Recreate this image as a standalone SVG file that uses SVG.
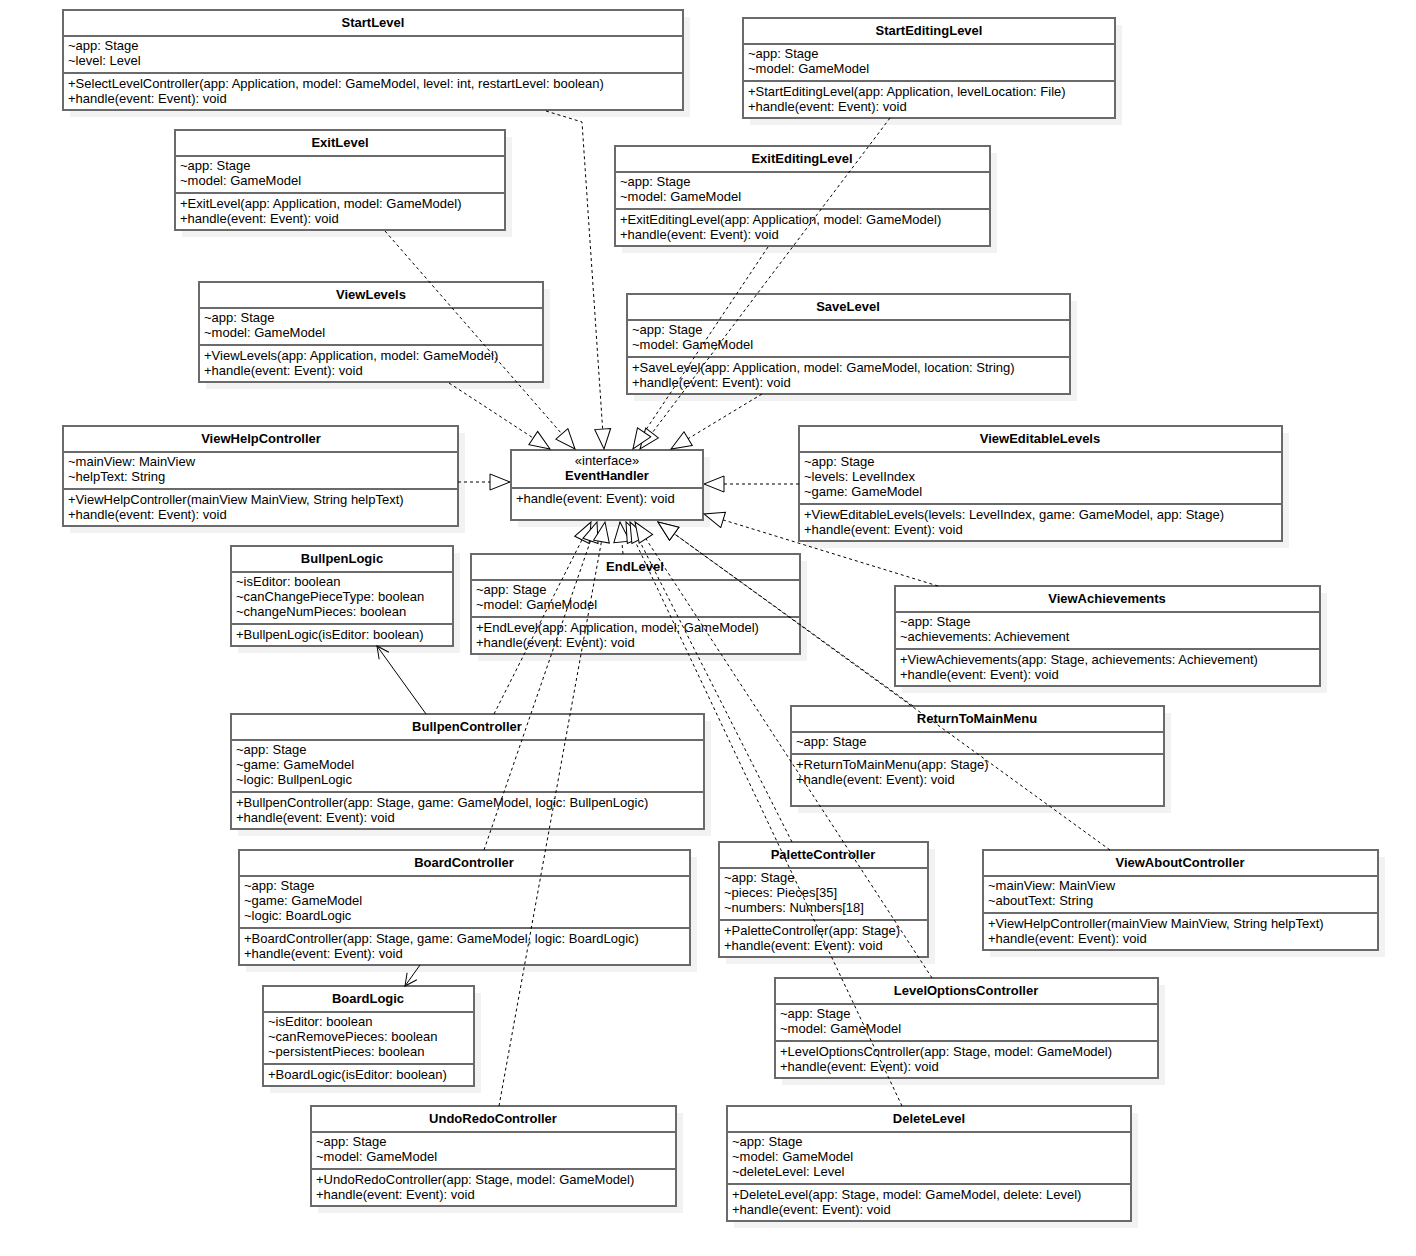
<svg xmlns="http://www.w3.org/2000/svg" width="1416" height="1256" viewBox="0 0 1416 1256">
<style>
.sh{fill:#f2f2f2;stroke:none}
.bx{fill:#fff;stroke:#6a6a6a;stroke-width:2}
.sp{stroke:#6a6a6a;stroke-width:2}
text{font-family:"Liberation Sans",Arial,sans-serif;font-size:13px;fill:#000}
.ti{font-weight:bold;text-anchor:middle}
.c{text-anchor:middle}
.dl{fill:none;stroke:#000;stroke-width:1;stroke-dasharray:3 3}
.sl{fill:none;stroke:#000;stroke-width:1}
</style>
<defs>
<marker id="real" markerUnits="userSpaceOnUse" markerWidth="22" markerHeight="18" refX="20" refY="8" orient="auto" viewBox="-1 -1 22 18">
<path d="M0,0 L20,8 L0,16 Z" fill="#fff" stroke="#000" stroke-width="1" stroke-dasharray="none"/>
</marker>
<marker id="open" markerUnits="userSpaceOnUse" markerWidth="14" markerHeight="14" refX="12" refY="6" orient="auto" viewBox="-1 -1 14 14">
<path d="M0,0 L12,6 L0,12" fill="none" stroke="#000" stroke-width="1"/>
</marker>
</defs>
<rect width="1416" height="1256" fill="#fff"/>

<g id="StartLevel">
<rect class="sh" x="70" y="17" width="620" height="100"/><rect class="bx" x="63" y="10" width="620" height="100"/>
<line class="sp" x1="63" y1="36" x2="683" y2="36"/><line class="sp" x1="63" y1="73" x2="683" y2="73"/>
<text class="ti" x="373" y="27">StartLevel</text>
<text x="68" y="50">~app: Stage</text><text x="68" y="65">~level: Level</text>
<text x="68" y="88">+SelectLevelController(app: Application, model: GameModel, level: int, restartLevel: boolean)</text><text x="68" y="103">+handle(event: Event): void</text>
</g>

<g id="StartEditingLevel">
<rect class="sh" x="750" y="25" width="372" height="100"/><rect class="bx" x="743" y="18" width="372" height="100"/>
<line class="sp" x1="743" y1="44" x2="1115" y2="44"/><line class="sp" x1="743" y1="81" x2="1115" y2="81"/>
<text class="ti" x="929" y="35">StartEditingLevel</text>
<text x="748" y="58">~app: Stage</text><text x="748" y="73">~model: GameModel</text>
<text x="748" y="96">+StartEditingLevel(app: Application, levelLocation: File)</text><text x="748" y="111">+handle(event: Event): void</text>
</g>

<g id="ExitLevel">
<rect class="sh" x="182" y="137" width="330" height="100"/><rect class="bx" x="175" y="130" width="330" height="100"/>
<line class="sp" x1="175" y1="156" x2="505" y2="156"/><line class="sp" x1="175" y1="193" x2="505" y2="193"/>
<text class="ti" x="340" y="147">ExitLevel</text>
<text x="180" y="170">~app: Stage</text><text x="180" y="185">~model: GameModel</text>
<text x="180" y="208">+ExitLevel(app: Application, model: GameModel)</text><text x="180" y="223">+handle(event: Event): void</text>
</g>

<g id="ExitEditingLevel">
<rect class="sh" x="622" y="153" width="375" height="100"/><rect class="bx" x="615" y="146" width="375" height="100"/>
<line class="sp" x1="615" y1="172" x2="990" y2="172"/><line class="sp" x1="615" y1="209" x2="990" y2="209"/>
<text class="ti" x="802" y="163">ExitEditingLevel</text>
<text x="620" y="186">~app: Stage</text><text x="620" y="201">~model: GameModel</text>
<text x="620" y="224">+ExitEditingLevel(app: Application, model: GameModel)</text><text x="620" y="239">+handle(event: Event): void</text>
</g>

<g id="ViewLevels">
<rect class="sh" x="206" y="289" width="344" height="100"/><rect class="bx" x="199" y="282" width="344" height="100"/>
<line class="sp" x1="199" y1="308" x2="543" y2="308"/><line class="sp" x1="199" y1="345" x2="543" y2="345"/>
<text class="ti" x="371" y="299">ViewLevels</text>
<text x="204" y="322">~app: Stage</text><text x="204" y="337">~model: GameModel</text>
<text x="204" y="360">+ViewLevels(app: Application, model: GameModel)</text><text x="204" y="375">+handle(event: Event): void</text>
</g>

<g id="SaveLevel">
<rect class="sh" x="634" y="301" width="443" height="100"/><rect class="bx" x="627" y="294" width="443" height="100"/>
<line class="sp" x1="627" y1="320" x2="1070" y2="320"/><line class="sp" x1="627" y1="357" x2="1070" y2="357"/>
<text class="ti" x="848" y="311">SaveLevel</text>
<text x="632" y="334">~app: Stage</text><text x="632" y="349">~model: GameModel</text>
<text x="632" y="372">+SaveLevel(app: Application, model: GameModel, location: String)</text><text x="632" y="387">+handle(event: Event): void</text>
</g>

<g id="ViewHelpController">
<rect class="sh" x="70" y="433" width="395" height="100"/><rect class="bx" x="63" y="426" width="395" height="100"/>
<line class="sp" x1="63" y1="452" x2="458" y2="452"/><line class="sp" x1="63" y1="489" x2="458" y2="489"/>
<text class="ti" x="261" y="443">ViewHelpController</text>
<text x="68" y="466">~mainView: MainView</text><text x="68" y="481">~helpText: String</text>
<text x="68" y="504">+ViewHelpController(mainView MainView, String helpText)</text><text x="68" y="519">+handle(event: Event): void</text>
</g>

<g id="EventHandler">
<rect class="sh" x="518" y="457" width="192" height="70"/><rect class="bx" x="511" y="450" width="192" height="70"/>
<line class="sp" x1="511" y1="488" x2="703" y2="488"/>
<text class="c" x="607" y="465">«interface»</text>
<text class="ti" x="607" y="480">EventHandler</text>
<text x="516" y="503">+handle(event: Event): void</text>
</g>

<g id="ViewEditableLevels">
<rect class="sh" x="806" y="433" width="483" height="115"/><rect class="bx" x="799" y="426" width="483" height="115"/>
<line class="sp" x1="799" y1="452" x2="1282" y2="452"/><line class="sp" x1="799" y1="504" x2="1282" y2="504"/>
<text class="ti" x="1040" y="443">ViewEditableLevels</text>
<text x="804" y="466">~app: Stage</text><text x="804" y="481">~levels: LevelIndex</text><text x="804" y="496">~game: GameModel</text>
<text x="804" y="519">+ViewEditableLevels(levels: LevelIndex, game: GameModel, app: Stage)</text><text x="804" y="534">+handle(event: Event): void</text>
</g>

<g id="BullpenLogic">
<rect class="sh" x="238" y="553" width="222" height="100"/><rect class="bx" x="231" y="546" width="222" height="100"/>
<line class="sp" x1="231" y1="572" x2="453" y2="572"/><line class="sp" x1="231" y1="624" x2="453" y2="624"/>
<text class="ti" x="342" y="563">BullpenLogic</text>
<text x="236" y="586">~isEditor: boolean</text><text x="236" y="601">~canChangePieceType: boolean</text><text x="236" y="616">~changeNumPieces: boolean</text>
<text x="236" y="639">+BullpenLogic(isEditor: boolean)</text>
</g>

<g id="EndLevel">
<rect class="sh" x="478" y="561" width="329" height="100"/><rect class="bx" x="471" y="554" width="329" height="100"/>
<line class="sp" x1="471" y1="580" x2="800" y2="580"/><line class="sp" x1="471" y1="617" x2="800" y2="617"/>
<text class="ti" x="635" y="571">EndLevel</text>
<text x="476" y="594">~app: Stage</text><text x="476" y="609">~model: GameModel</text>
<text x="476" y="632">+EndLevel(app: Application, model: GameModel)</text><text x="476" y="647">+handle(event: Event): void</text>
</g>

<g id="ViewAchievements">
<rect class="sh" x="902" y="593" width="425" height="100"/><rect class="bx" x="895" y="586" width="425" height="100"/>
<line class="sp" x1="895" y1="612" x2="1320" y2="612"/><line class="sp" x1="895" y1="649" x2="1320" y2="649"/>
<text class="ti" x="1107" y="603">ViewAchievements</text>
<text x="900" y="626">~app: Stage</text><text x="900" y="641">~achievements: Achievement</text>
<text x="900" y="664">+ViewAchievements(app: Stage, achievements: Achievement)</text><text x="900" y="679">+handle(event: Event): void</text>
</g>

<g id="ReturnToMainMenu">
<rect class="sh" x="798" y="713" width="373" height="100"/><rect class="bx" x="791" y="706" width="373" height="100"/>
<line class="sp" x1="791" y1="732" x2="1164" y2="732"/><line class="sp" x1="791" y1="754" x2="1164" y2="754"/>
<text class="ti" x="977" y="723">ReturnToMainMenu</text>
<text x="796" y="746">~app: Stage</text>
<text x="796" y="769">+ReturnToMainMenu(app: Stage)</text><text x="796" y="784">+handle(event: Event): void</text>
</g>

<g id="BullpenController">
<rect class="sh" x="238" y="721" width="473" height="115"/><rect class="bx" x="231" y="714" width="473" height="115"/>
<line class="sp" x1="231" y1="740" x2="704" y2="740"/><line class="sp" x1="231" y1="792" x2="704" y2="792"/>
<text class="ti" x="467" y="731">BullpenController</text>
<text x="236" y="754">~app: Stage</text><text x="236" y="769">~game: GameModel</text><text x="236" y="784">~logic: BullpenLogic</text>
<text x="236" y="807">+BullpenController(app: Stage, game: GameModel, logic: BullpenLogic)</text><text x="236" y="822">+handle(event: Event): void</text>
</g>

<g id="BoardController">
<rect class="sh" x="246" y="857" width="451" height="115"/><rect class="bx" x="239" y="850" width="451" height="115"/>
<line class="sp" x1="239" y1="876" x2="690" y2="876"/><line class="sp" x1="239" y1="928" x2="690" y2="928"/>
<text class="ti" x="464" y="867">BoardController</text>
<text x="244" y="890">~app: Stage</text><text x="244" y="905">~game: GameModel</text><text x="244" y="920">~logic: BoardLogic</text>
<text x="244" y="943">+BoardController(app: Stage, game: GameModel, logic: BoardLogic)</text><text x="244" y="958">+handle(event: Event): void</text>
</g>

<g id="PaletteController">
<rect class="sh" x="726" y="849" width="209" height="115"/><rect class="bx" x="719" y="842" width="209" height="115"/>
<line class="sp" x1="719" y1="868" x2="928" y2="868"/><line class="sp" x1="719" y1="920" x2="928" y2="920"/>
<text class="ti" x="823" y="859">PaletteController</text>
<text x="724" y="882">~app: Stage</text><text x="724" y="897">~pieces: Pieces[35]</text><text x="724" y="912">~numbers: Numbers[18]</text>
<text x="724" y="935">+PaletteController(app: Stage)</text><text x="724" y="950">+handle(event: Event): void</text>
</g>

<g id="ViewAboutController">
<rect class="sh" x="990" y="857" width="395" height="100"/><rect class="bx" x="983" y="850" width="395" height="100"/>
<line class="sp" x1="983" y1="876" x2="1378" y2="876"/><line class="sp" x1="983" y1="913" x2="1378" y2="913"/>
<text class="ti" x="1180" y="867">ViewAboutController</text>
<text x="988" y="890">~mainView: MainView</text><text x="988" y="905">~aboutText: String</text>
<text x="988" y="928">+ViewHelpController(mainView MainView, String helpText)</text><text x="988" y="943">+handle(event: Event): void</text>
</g>

<g id="LevelOptionsController">
<rect class="sh" x="782" y="985" width="383" height="100"/><rect class="bx" x="775" y="978" width="383" height="100"/>
<line class="sp" x1="775" y1="1004" x2="1158" y2="1004"/><line class="sp" x1="775" y1="1041" x2="1158" y2="1041"/>
<text class="ti" x="966" y="995">LevelOptionsController</text>
<text x="780" y="1018">~app: Stage</text><text x="780" y="1033">~model: GameModel</text>
<text x="780" y="1056">+LevelOptionsController(app: Stage, model: GameModel)</text><text x="780" y="1071">+handle(event: Event): void</text>
</g>

<g id="BoardLogic">
<rect class="sh" x="270" y="993" width="211" height="100"/><rect class="bx" x="263" y="986" width="211" height="100"/>
<line class="sp" x1="263" y1="1012" x2="474" y2="1012"/><line class="sp" x1="263" y1="1064" x2="474" y2="1064"/>
<text class="ti" x="368" y="1003">BoardLogic</text>
<text x="268" y="1026">~isEditor: boolean</text><text x="268" y="1041">~canRemovePieces: boolean</text><text x="268" y="1056">~persistentPieces: boolean</text>
<text x="268" y="1079">+BoardLogic(isEditor: boolean)</text>
</g>

<g id="UndoRedoController">
<rect class="sh" x="318" y="1113" width="365" height="100"/><rect class="bx" x="311" y="1106" width="365" height="100"/>
<line class="sp" x1="311" y1="1132" x2="676" y2="1132"/><line class="sp" x1="311" y1="1169" x2="676" y2="1169"/>
<text class="ti" x="493" y="1123">UndoRedoController</text>
<text x="316" y="1146">~app: Stage</text><text x="316" y="1161">~model: GameModel</text>
<text x="316" y="1184">+UndoRedoController(app: Stage, model: GameModel)</text><text x="316" y="1199">+handle(event: Event): void</text>
</g>

<g id="DeleteLevel">
<rect class="sh" x="734" y="1113" width="404" height="115"/><rect class="bx" x="727" y="1106" width="404" height="115"/>
<line class="sp" x1="727" y1="1132" x2="1131" y2="1132"/><line class="sp" x1="727" y1="1184" x2="1131" y2="1184"/>
<text class="ti" x="929" y="1123">DeleteLevel</text>
<text x="732" y="1146">~app: Stage</text><text x="732" y="1161">~model: GameModel</text><text x="732" y="1176">~deleteLevel: Level</text>
<text x="732" y="1199">+DeleteLevel(app: Stage, model: GameModel, delete: Level)</text><text x="732" y="1214">+handle(event: Event): void</text>
</g>

<g id="connectors">
<polyline class="dl" points="546,111 582,122 604,449" marker-end="url(#real)"/>
<line class="dl" x1="385" y1="231" x2="575" y2="449" marker-end="url(#real)"/>
<line class="dl" x1="449" y1="383" x2="550" y2="449" marker-end="url(#real)"/>
<line class="dl" x1="890" y1="118" x2="640" y2="449" marker-end="url(#real)"/>
<line class="dl" x1="768" y1="247" x2="633" y2="449" marker-end="url(#real)"/>
<line class="dl" x1="762" y1="394" x2="671" y2="449" marker-end="url(#real)"/>
<line class="dl" x1="458" y1="482" x2="510" y2="482" marker-end="url(#real)"/>
<line class="dl" x1="799" y1="484" x2="704" y2="484" marker-end="url(#real)"/>
<line class="dl" x1="938" y1="586" x2="704" y2="514" marker-end="url(#real)"/>
<line class="dl" x1="494" y1="714" x2="591" y2="522" marker-end="url(#real)"/>
<line class="dl" x1="484" y1="850" x2="597" y2="522" marker-end="url(#real)"/>
<line class="dl" x1="499" y1="1106" x2="605" y2="522" marker-end="url(#real)"/>
<line class="dl" x1="623" y1="554" x2="620" y2="522" marker-end="url(#real)"/>
<line class="dl" x1="902" y1="1106" x2="626" y2="522" marker-end="url(#real)"/>
<line class="dl" x1="792" y1="842" x2="630" y2="522" marker-end="url(#real)"/>
<line class="dl" x1="932" y1="978" x2="635" y2="522" marker-end="url(#real)"/>
<line class="dl" x1="913" y1="706" x2="658" y2="522" marker-end="url(#real)"/>
<line class="dl" x1="1110" y1="850" x2="658" y2="522" stroke-dasharray="2 2" marker-end="url(#real)"/>
<line class="sl" x1="426" y1="714" x2="377" y2="646" marker-end="url(#open)"/>
<line class="sl" x1="420" y1="965" x2="405" y2="986" marker-end="url(#open)"/>
</g>
</svg>
